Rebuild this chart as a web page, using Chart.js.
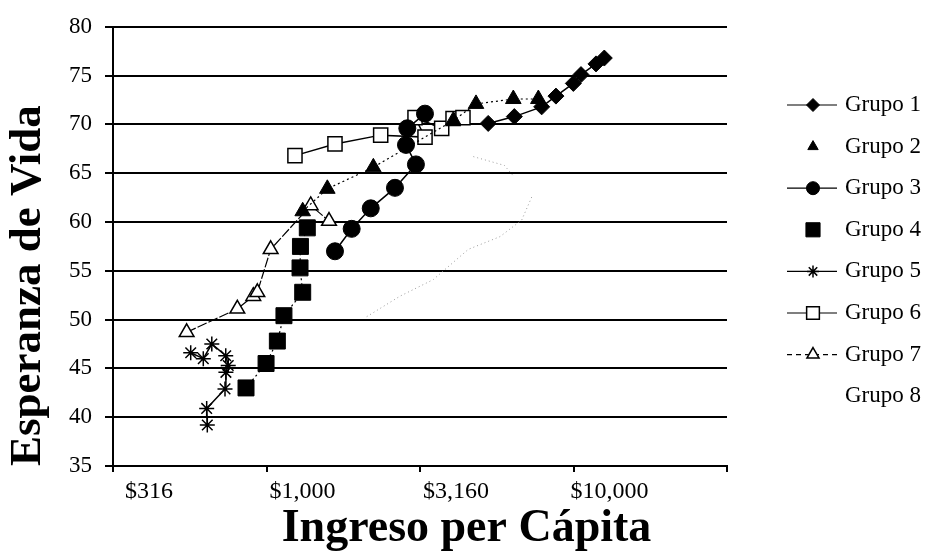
<!DOCTYPE html>
<html>
<head>
<meta charset="utf-8">
<script src="https://cdn.jsdelivr.net/npm/chart.js@4/dist/chart.umd.min.js"></script>
<style>
  html, body { margin: 0; padding: 0; background: #ffffff; }
  canvas { display: block; }
</style>
</head>
<body>
<canvas id="c" width="933" height="557"></canvas>
<script>
// ---- data ----
const xTickValues = [316, 1000, 3160, 10000, 31600];
const xTickLabels = ['$316', '$1,000', '$3,160', '$10,000', ''];
const seriesNames = ['Grupo 1', 'Grupo 2', 'Grupo 3', 'Grupo 4', 'Grupo 5', 'Grupo 6', 'Grupo 7', 'Grupo 8'];

const g1x = [5270, 6410, 7870, 8760, 9980, 10570, 11830, 12590];
const g1y = [70.1, 70.8, 71.8, 72.9, 74.2, 75.1, 76.2, 76.8];

const g2x = [1311, 1577, 2227, 4058, 4810, 6363, 7677];
const g2y = [61.1, 63.4, 65.6, 70.4, 72.1, 72.6, 72.6];

const g3x = [1670, 1893, 2184, 2619, 3065, 2845, 2873, 3280];
const g3y = [57.0, 59.3, 61.4, 63.5, 65.9, 67.9, 69.6, 71.1];

const g4x = [857, 996, 1084, 1139, 1311, 1285, 1289, 1357];
const g4y = [43.0, 45.5, 47.8, 50.4, 52.8, 55.3, 57.5, 59.4];

const g5x = [641, 638, 732, 737, 750, 736, 663, 622, 566];
const g5y = [39.2, 40.9, 42.9, 44.6, 45.3, 46.3, 47.5, 46.0, 46.6];

const g6x = [1237, 1670, 2353, 3281, 3044, 3718, 4049, 4361];
const g6y = [66.8, 68.0, 68.9, 68.7, 70.7, 69.6, 70.6, 70.7];

const g7x = [549, 803, 905, 933, 1031, 1392, 1597];
const g7y = [48.7, 51.1, 52.4, 52.8, 57.2, 61.7, 60.1];

const g8x = [2119, 2720, 3491, 4541, 5758, 6776, 7361, 7000, 4715, 5950, 6333];
const g8y = [50.3, 52.4, 54.1, 57.2, 58.5, 60.2, 62.8, null, 66.7, 65.8, 64.8];

// ---- helpers ----
const SERIF = "'Liberation Serif', 'Times New Roman', serif";
function pts(xs, ys) { return xs.map((x, i) => ({ x: x, y: ys[i] })); }

const datasets = [
  { label: seriesNames[0], data: pts(g1x, g1y), showLine: true, borderColor: '#000', borderWidth: 1.5,
    pointStyle: 'rectRot', pointRadius: 8, pointBackgroundColor: '#000', pointBorderColor: '#000', pointBorderWidth: 1,
    legendLine: [], legendRadius: 6.5 },
  { label: seriesNames[1], data: pts(g2x, g2y), showLine: true, borderColor: '#000', borderWidth: 1.2, borderDash: [2, 3],
    pointStyle: 'triangle', pointRadius: 9, pointBackgroundColor: '#000', pointBorderColor: '#000', pointBorderWidth: 1,
    legendLine: null, legendRadius: 6 },
  { label: seriesNames[2], data: pts(g3x, g3y), showLine: true, borderColor: '#000', borderWidth: 1.5,
    pointStyle: 'circle', pointRadius: 8.5, pointBackgroundColor: '#000', pointBorderColor: '#000', pointBorderWidth: 1,
    legendLine: [], legendRadius: 6.5 },
  { label: seriesNames[3], data: pts(g4x, g4y), showLine: true, borderColor: '#000', borderWidth: 1.2, borderDash: [2, 3],
    pointStyle: 'rect', pointRadius: 11.3, pointBackgroundColor: '#000', pointBorderColor: '#000', pointBorderWidth: 1,
    legendLine: null, legendRadius: 10 },
  { label: seriesNames[4], data: pts(g5x, g5y), showLine: true, borderColor: '#000', borderWidth: 1.5,
    pointStyle: 'star', pointRadius: 7.5, pointBackgroundColor: '#000', pointBorderColor: '#000', pointBorderWidth: 1.5,
    legendLine: [], legendRadius: 6 },
  { label: seriesNames[5], data: pts(g6x, g6y), showLine: true, borderColor: '#000', borderWidth: 1.5,
    pointStyle: 'rect', pointRadius: 10, pointBackgroundColor: '#fff', pointBorderColor: '#000', pointBorderWidth: 1.5,
    legendLine: [], legendRadius: 9 },
  { label: seriesNames[6], data: pts(g7x, g7y), showLine: true, borderColor: '#000', borderWidth: 1.2, borderDash: [10, 2],
    pointStyle: 'triangle', pointRadius: 8.5, pointBackgroundColor: '#fff', pointBorderColor: '#000', pointBorderWidth: 1.5,
    legendLine: [5, 4], legendRadius: 7 },
  { label: seriesNames[7], data: pts(g8x, g8y), showLine: true, spanGaps: false, borderColor: '#9a9a9a', borderWidth: 1, borderDash: [1, 3],
    pointStyle: 'circle', pointRadius: 0, pointBackgroundColor: '#9a9a9a', pointBorderColor: '#9a9a9a', pointBorderWidth: 0,
    legendLine: null, legendRadius: 0 }
];

// side legend drawn as a layout box on the right (Excel style: line + marker + text)
const sideLegend = {
  id: 'sideLegend',
  beforeInit(chart) {
    const box = {
      position: 'right', weight: 1000, fullSize: false, options: {},
      left: 0, top: 0, right: 0, bottom: 0, width: 0, height: 0,
      isHorizontal() { return false; },
      update(maxWidth, maxHeight) { this.width = 206; this.height = maxHeight; },
      draw() {
        const ctx = chart.ctx;
        const bx = this.left;
        chart.data.datasets.forEach((ds, i) => {
          const y = 105 + i * 41.6;
          const cx = bx + 86;
          ctx.save();
          if (ds.legendLine) {
            ctx.strokeStyle = '#000';
            ctx.lineWidth = 1.2;
            ctx.setLineDash(ds.legendLine);
            ctx.beginPath();
            ctx.moveTo(bx + 60, y);
            ctx.lineTo(bx + 110, y);
            ctx.stroke();
            ctx.setLineDash([]);
          }
          if (ds.legendRadius > 0) {
            ctx.fillStyle = ds.pointBackgroundColor;
            ctx.strokeStyle = ds.pointBorderColor;
            ctx.lineWidth = ds.pointBorderWidth;
            Chart.helpers.drawPoint(ctx, {
              pointStyle: ds.pointStyle, radius: ds.legendRadius, rotation: 0, borderWidth: ds.pointBorderWidth
            }, cx, y);
          }
          ctx.fillStyle = '#000';
          ctx.font = '23px ' + SERIF;
          ctx.textAlign = 'left';
          ctx.textBaseline = 'middle';
          ctx.fillText(ds.label, bx + 118, y);
          ctx.restore();
        });
      }
    };
    Chart.layouts.addBox(chart, box);
  }
};

new Chart(document.getElementById('c'), {
  type: 'scatter',
  data: { datasets: datasets },
  options: {
    responsive: false,
    devicePixelRatio: 1,
    animation: false,
    layout: { padding: { top: 24, left: 0, right: 0, bottom: 0 } },
    plugins: {
      legend: { display: false },
      tooltip: { enabled: false },
      title: {
        display: true, position: 'bottom', text: 'Ingreso per Cápita', color: '#000',
        font: { family: SERIF, size: 46, weight: 'bold' }, padding: { top: 0, bottom: 0 }
      }
    },
    scales: {
      x: {
        type: 'logarithmic', min: 316, max: 31600,
        afterBuildTicks: (s) => { s.ticks = xTickValues.map(v => ({ value: v })); },
        afterFit: (s) => { s.height = 557 - 55.2 - 466; },
        ticks: {
          autoSkip: false, maxRotation: 0, minRotation: 0, labelOffset: 36, padding: 5,
          color: '#000', font: { family: SERIF, size: 24 },
          major: { enabled: false },
          callback: (v, i) => xTickLabels[i]
        },
        grid: { drawOnChartArea: false, drawTicks: true, tickLength: 6, color: '#000', lineWidth: 2 },
        border: { display: true, color: '#000', width: 2 }
      },
      y: {
        min: 35, max: 80,
        afterFit: (s) => { s.width = 113; },
        ticks: { stepSize: 5, padding: 13, color: '#000', font: { family: SERIF, size: 23 } },
        grid: { color: '#000', lineWidth: 2, drawTicks: true, tickLength: 8 },
        border: { display: true, color: '#000', width: 2 },
        title: {
          display: true, text: 'Esperanza de Vida', align: 'start', color: '#000',
          font: { family: SERIF, size: 45, weight: 'bold' }, padding: { top: 1, bottom: 0 }
        }
      }
    }
  },
  plugins: [sideLegend]
});
</script>
</body>
</html>
